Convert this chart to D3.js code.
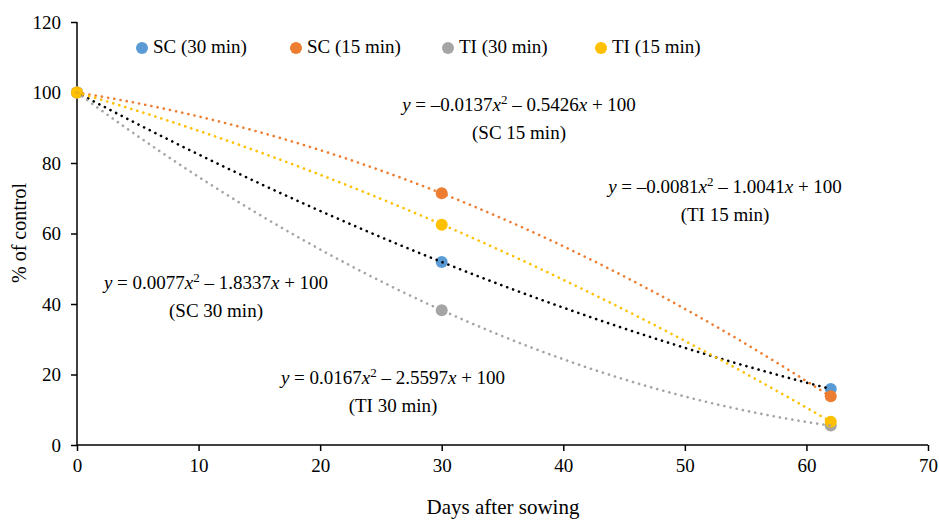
<!DOCTYPE html>
<html>
<head>
<meta charset="utf-8">
<script src="https://cdn.jsdelivr.net/npm/d3@7"></script>
<style>
  body { margin: 0; background: #fff; }
  .axis path, .axis line { stroke: #000; stroke-width: 1.5; }
</style>
</head>
<body>
<div id="chart"></div>
<script>
// data
var days = [0, 30, 62];
var seriesNames = ["SC (30 min)", "SC (15 min)", "TI (30 min)", "TI (15 min)"];
var sc30 = [100, 51.9, 15.9];
var sc15 = [100, 71.4, 13.8];
var ti30 = [100, 38.2, 5.5];
var ti15 = [100, 62.5, 6.6];
var seriesColors = ["#5B9BD5", "#ED7D31", "#A5A5A5", "#FFC000"];
var trendColors = ["#000000", "#ED7D31", "#A5A5A5", "#FFC000"];

// polynomial trendline coefficients (a, b, c) as printed on the chart
var trendA = [0.0077, -0.0137, 0.0167, -0.0081];
var trendB = [-1.8337, -0.5426, -2.5597, -1.0041];
var trendC = [100, 100, 100, 100];
var trendLabels = ["(SC 30 min)", "(SC 15 min)", "(TI 30 min)", "(TI 15 min)"];

var xTicks = [0, 10, 20, 30, 40, 50, 60, 70];
var yTicks = [0, 20, 40, 60, 80, 100, 120];

var FONT = "'Liberation Serif', serif";

var svgWidth = 939, svgHeight = 521;
var margin = { top: 22, right: 11, bottom: 76, left: 77 };
var width = svgWidth - margin.left - margin.right;
var height = svgHeight - margin.top - margin.bottom;

var svg = d3.select("#chart").append("svg")
  .attr("width", svgWidth)
  .attr("height", svgHeight)
  .attr("font-family", FONT);

var chartGroup = svg.append("g")
  .attr("transform", `translate(${margin.left}, ${margin.top})`);

var xScale = d3.scaleLinear().domain([0, 70]).range([0, width]);
var yScale = d3.scaleLinear().domain([0, 120]).range([height, 0]);

// axes
chartGroup.append("g")
  .attr("class", "axis")
  .attr("transform", `translate(0, ${height})`)
  .call(d3.axisBottom(xScale).tickValues(xTicks).tickSizeOuter(0).tickSize(6).tickPadding(8))
  .call(g => g.select(".domain").attr("d", `M0,0H${width}`))
  .attr("font-family", FONT)
  .attr("font-size", 19);

chartGroup.append("g")
  .attr("class", "axis")
  .call(d3.axisLeft(yScale).tickValues(yTicks).tickSizeOuter(0).tickSize(6).tickPadding(10))
  .call(g => g.select(".domain").attr("d", `M0,0V${height}`))
  .attr("font-family", FONT)
  .attr("font-size", 19);

chartGroup.selectAll(".axis text")
  .style("font-family", FONT)
  .attr("fill", "#000");

// axis titles
svg.append("text")
  .attr("x", 503)
  .attr("y", 514)
  .attr("text-anchor", "middle")
  .style("font-family", FONT)
  .style("font-size", "21px")
  .text("Days after sowing");

svg.append("text")
  .attr("transform", "translate(26, 233) rotate(-90)")
  .attr("text-anchor", "middle")
  .style("font-family", FONT)
  .style("font-size", "20px")
  .text("% of control");

var allSeries = [sc30, sc15, ti30, ti15];

// markers
allSeries.forEach(function (vals, i) {
  chartGroup.selectAll(null)
    .data(days.map((d, j) => ({ x: d, y: vals[j] })))
    .enter()
    .append("circle")
    .attr("cx", d => xScale(d.x))
    .attr("cy", d => yScale(d.y))
    .attr("r", 6)
    .attr("fill", seriesColors[i]);
});

// trendlines
var line = d3.line()
  .x(d => xScale(d[0]))
  .y(d => yScale(d[1]));

allSeries.forEach(function (vals, i) {
  var pts = d3.range(0, 62.01, 0.5).map(function (x) {
    return [x, trendA[i] * x * x + trendB[i] * x + trendC[i]];
  });
  chartGroup.append("path")
    .datum(pts)
    .attr("d", line)
    .attr("fill", "none")
    .attr("stroke", trendColors[i])
    .attr("stroke-width", 2.6)
    .attr("stroke-linecap", "round")
    .attr("stroke-dasharray", "0.1 6.2");
});

// legend
var legendX = [142, 296, 448, 601];
seriesNames.forEach(function (name, i) {
  svg.append("circle")
    .attr("cx", legendX[i])
    .attr("cy", 48)
    .attr("r", 6)
    .attr("fill", seriesColors[i]);
  svg.append("text")
    .attr("x", legendX[i] + 11)
    .attr("y", 53)
    .style("font-family", FONT)
    .style("font-size", "19px")
    .text(name);
});

// equations
var eqPos = [[216, 289], [519, 111], [393, 384], [725, 193]];

function fmt(v) {
  return Math.abs(v).toFixed(4);
}

trendA.forEach(function (a, i) {
  var t = svg.append("text")
    .attr("x", eqPos[i][0])
    .attr("y", eqPos[i][1])
    .attr("text-anchor", "middle")
    .style("font-family", FONT)
    .style("font-size", "19px");
  t.append("tspan").style("font-style", "italic").text("y");
  t.append("tspan").text(" = " + (a < 0 ? "–" : "") + fmt(a));
  t.append("tspan").style("font-style", "italic").text("x");
  t.append("tspan").attr("dy", -7).style("font-size", "13px").text("2");
  t.append("tspan").attr("dy", 7).text(" " + (trendB[i] < 0 ? "–" : "+") + " " + fmt(trendB[i]));
  t.append("tspan").style("font-style", "italic").text("x");
  t.append("tspan").text(" + " + trendC[i]);

  svg.append("text")
    .attr("x", eqPos[i][0])
    .attr("y", eqPos[i][1] + 28)
    .attr("text-anchor", "middle")
    .style("font-family", FONT)
    .style("font-size", "19px")
    .text(trendLabels[i]);
});
</script>
</body>
</html>
